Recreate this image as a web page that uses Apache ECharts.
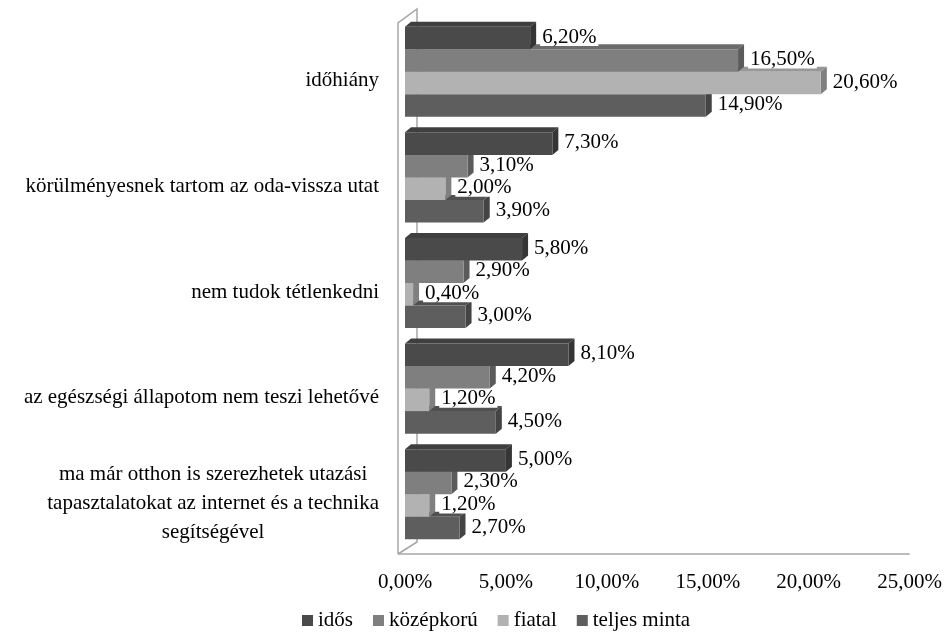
<!DOCTYPE html>
<html>
<head>
<meta charset="utf-8">
<script src="https://cdn.jsdelivr.net/npm/echarts@6/dist/echarts.min.js"></script>
<style>
  html, body { margin: 0; padding: 0; background: #fff; }
  #main { width: 945px; height: 632px; }
</style>
</head>
<body>
<div id="main"></div>
<script>
// adatok
var categories = [
  "időhiány",
  "körülményesnek tartom az oda-vissza utat",
  "nem tudok tétlenkedni",
  "az egészségi állapotom nem teszi lehetővé",
  "ma már otthon is szerezhetek utazási\ntapasztalatokat az internet és a technika\nsegítségével"
];
var seriesNames = ["idős", "középkorú", "fiatal", "teljes minta"];
var idos = [6.2, 7.3, 5.8, 8.1, 5.0];
var kozepkoru = [16.5, 3.1, 2.9, 4.2, 2.3];
var fiatal = [20.6, 2.0, 0.4, 1.2, 1.2];
var teljesMinta = [14.9, 3.9, 3.0, 4.5, 2.7];
var xTicks = [0, 5, 10, 15, 20, 25];

var colors = ["#4a4a4a", "#7f7f7f", "#b2b2b2", "#5e5e5e"];
var FONT = "'Liberation Serif', 'Times New Roman', serif";
var DX = 6, DY = -5; // 3D mélység

function fmt(v) {
  return v.toFixed(2).replace(".", ",") + "%";
}

function shade(hex, k) {
  var n = parseInt(hex.slice(1), 16);
  var r = Math.round(((n >> 16) & 255) * k);
  var g = Math.round(((n >> 8) & 255) * k);
  var b = Math.round((n & 255) * k);
  return "rgb(" + r + "," + g + "," + b + ")";
}

function makeRender(idx) {
  return function (params, api) {
    var val = api.value(0);
    var cat = api.value(1);
    var p0 = api.coord([0, cat]);
    var p1 = api.coord([val, cat]);
    var band = api.size([0, 1])[1];
    var h = band * 0.2133;
    var y0 = p0[1] - 2 * h + idx * h;
    var y1 = y0 + h;
    var x0 = p0[0], x1 = p1[0];
    var c = colors[idx];
    return {
      type: "group",
      children: [
        {
          type: "polygon",
          shape: { points: [[x0, y0], [x0 + DX, y0 + DY], [x1 + DX, y0 + DY], [x1, y0]] },
          style: { fill: shade(c, 0.85) },
          z2: 10 - idx
        },
        {
          type: "polygon",
          shape: { points: [[x1, y0], [x1 + DX, y0 + DY], [x1 + DX, y1 + DY], [x1, y1]] },
          style: { fill: shade(c, 0.72) },
          z2: 10 - idx
        },
        {
          type: "rect",
          shape: { x: x0, y: y0, width: x1 - x0, height: h },
          style: { fill: c },
          z2: 10 - idx
        },
        {
          type: "text",
          x: x1 + DX + 4,
          y: (y0 + y1) / 2 - 1,
          style: {
            text: fmt(val),
            fill: "#000",
            fontSize: 21,
            fontFamily: FONT,
            lineHeight: 18,
            align: "left",
            verticalAlign: "middle",
            backgroundColor: "#fff",
            padding: [0, 2]
          },
          z2: 100
        }
      ]
    };
  };
}

function renderWall(params, api) {
  var cs = params.coordSys;
  var L = cs.x, T = cs.y, R = cs.x + cs.width, B = cs.y + cs.height;
  var st = { stroke: "#a6a6a6", lineWidth: 1.5, fill: null };
  return {
    type: "group",
    children: [
      {
        type: "polyline",
        shape: { points: [[L - 7, B + 7], [L - 7, T + 4], [L + 12, T - 10], [L + 12, B - 5], [L - 7, B + 7]] },
        style: st,
        z2: 0
      },
      {
        type: "line",
        shape: { x1: L - 7, y1: B + 7, x2: R, y2: B + 7 },
        style: st,
        z2: 0
      }
    ]
  };
}

var allValues = [idos, kozepkoru, fiatal, teljesMinta];

var series = [
  {
    type: "custom",
    name: "fal",
    silent: true,
    renderItem: renderWall,
    data: [[0, 0]]
  }
];
allValues.forEach(function (arr, i) {
  series.push({
    type: "custom",
    name: seriesNames[i],
    itemStyle: { color: colors[i] },
    renderItem: makeRender(i),
    data: arr.map(function (v, k) { return [v, k]; })
  });
});

var myChart = echarts.init(document.getElementById("main"));
var option = {
  animation: false,
  backgroundColor: "#fff",
  textStyle: { fontFamily: FONT, color: "#000" },
  grid: { left: 405, top: 19, width: 505, height: 528 },
  xAxis: {
    type: "value",
    min: xTicks[0],
    max: xTicks[xTicks.length - 1],
    interval: xTicks[1] - xTicks[0],
    axisLine: { show: false },
    axisTick: { show: false },
    splitLine: { show: false },
    axisLabel: {
      margin: 25,
      fontSize: 21,
      fontFamily: FONT,
      color: "#000",
      formatter: function (v) { return fmt(v); }
    }
  },
  yAxis: {
    type: "category",
    inverse: true,
    data: categories,
    axisLine: { show: false },
    axisTick: { show: false },
    splitLine: { show: false },
    axisLabel: {
      margin: 26,
      padding: [18, 0, 0, 0],
      fontSize: 21,
      fontFamily: FONT,
      color: "#000",
      formatter: function (v) {
        return v.split("\n").map(function (l) { return "{c|" + l + "}"; }).join("\n");
      },
      rich: {
        c: { align: "center", fontSize: 21, fontFamily: FONT, color: "#000", lineHeight: 29 }
      }
    }
  },
  legend: {
    data: seriesNames,
    left: 302,
    top: 610,
    padding: 0,
    icon: "rect",
    itemWidth: 11,
    itemHeight: 11,
    itemGap: 20,
    textStyle: { fontSize: 21, fontFamily: FONT, color: "#000" }
  },
  series: series
};

option && myChart.setOption(option);
</script>
</body>
</html>
